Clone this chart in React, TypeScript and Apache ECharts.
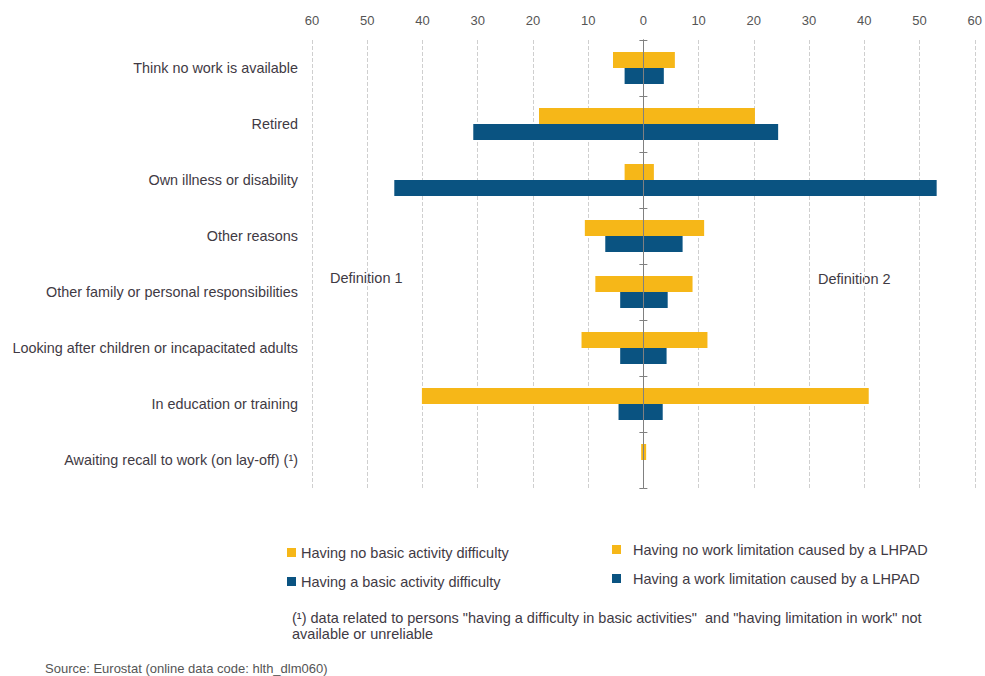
import React, { useEffect, useRef } from "react";
import * as echarts from "echarts";

const categories = [
  "Think no work is available",
  "Retired",
  "Own illness or disability",
  "Other reasons",
  "Other family or personal responsibilities",
  "Looking after children or incapacitated adults",
  "In education or training",
  "Awaiting recall to work (on lay-off) (\u00b9)",
];

// Definition 1 (plotted to the left)
const noBasicDifficulty = [5.5, 18.9, 3.4, 10.6, 8.7, 11.2, 40.1, 0.4];
const basicDifficulty = [3.4, 30.8, 45.1, 6.9, 4.2, 4.2, 4.5, null];
// Definition 2 (plotted to the right)
const noWorkLimitation = [5.7, 20.2, 1.9, 11.0, 8.9, 11.6, 40.8, 0.5];
const workLimitation = [3.7, 24.4, 53.1, 7.1, 4.4, 4.2, 3.5, null];

const seriesNames = [
  "Having no basic activity difficulty",
  "Having a basic activity difficulty",
  "Having no work limitation caused by a LHPAD",
  "Having a work limitation caused by a LHPAD",
];

const YELLOW = "#F6B718";
const BLUE = "#0A5381";
const FONT = "'Liberation Sans', Arial, sans-serif";
const TEXT = "#3f3a44";

export default function App() {
  const ref = useRef<HTMLDivElement>(null);
  useEffect(() => {
    if (!ref.current) return;
    const chart = echarts.init(ref.current, null, { renderer: "svg" });
    const neg = (arr: (number | null)[]) => arr.map((v) => (v == null ? null : -v));
    const bar = (name: string, data: (number | null)[], color: string, stack: string) => ({
      name,
      type: "bar",
      stack,
      data,
      barWidth: 16,
      barGap: "0%",
      itemStyle: { color },
      yAxisIndex: 0,
      z: 1,
    });
    const zeroAxis = (inside: boolean) => ({
      type: "category",
      data: categories,
      inverse: true,
      position: "left",
      z: 3,
      axisLine: { show: true, onZero: true, onZeroAxisIndex: 0, lineStyle: { color: "#808080", width: 1 } },
      axisTick: { show: true, inside, length: 4, lineStyle: { color: "#808080" } },
      axisLabel: { show: false },
      splitLine: { show: false },
    });
    chart.setOption({
      animation: false,
      backgroundColor: "#ffffff",
      textStyle: { fontFamily: FONT },
      grid: { left: 312, right: 8, top: 40, height: 448 },
      xAxis: {
        type: "value",
        position: "top",
        min: -60,
        max: 60,
        interval: 10,
        axisLine: { show: false, onZero: false },
        axisTick: { show: false },
        axisLabel: {
          formatter: (v: number) => String(Math.abs(v)),
          color: "#555",
          fontSize: 13,
          margin: 13,
          fontFamily: FONT,
        },
        splitLine: { show: true, lineStyle: { color: "#cfcfcf", type: "dashed", width: 1 } },
      },
      yAxis: [
        {
          type: "category",
          data: categories,
          inverse: true,
          axisLine: { show: false, onZero: false },
          axisTick: { show: false },
          axisLabel: { color: TEXT, fontSize: 14.4, margin: 14, fontFamily: FONT },
        },
        zeroAxis(false),
        zeroAxis(true),
      ],
      legend: [
        {
          data: [seriesNames[0], seriesNames[1]],
          orient: "vertical",
          left: 282,
          top: 540,
          itemWidth: 9,
          itemHeight: 9,
          itemGap: 14,
          icon: "rect",
          textStyle: { color: TEXT, fontSize: 14.5, fontFamily: FONT },
        },
        {
          data: [seriesNames[2], seriesNames[3]],
          orient: "vertical",
          left: 607,
          top: 537,
          itemWidth: 9,
          itemHeight: 9,
          itemGap: 14,
          icon: "rect",
          textStyle: { color: TEXT, fontSize: 14.5, fontFamily: FONT, padding: [0, 0, 0, 7] },
        },
      ],
      graphic: [
        { type: "text", left: 330, top: 270, style: { text: "Definition 1", fill: TEXT, font: `14.5px ${FONT}` } },
        { type: "text", left: 818, top: 271, style: { text: "Definition 2", fill: TEXT, font: `14.5px ${FONT}` } },
        {
          type: "text",
          left: 292,
          top: 610,
          style: {
            text:
              '(\u00b9) data related to persons "having a difficulty in basic activities"  and "having limitation in work" not\navailable or unreliable',
            fill: TEXT,
            font: `14.5px ${FONT}`,
            lineHeight: 16,
          },
        },
        {
          type: "text",
          left: 45,
          top: 662,
          style: { text: "Source: Eurostat (online data code: hlth_dlm060)", fill: "#555", font: `13px ${FONT}` },
        },
      ],
      series: [
        bar(seriesNames[0], neg(noBasicDifficulty), YELLOW, "yellow"),
        bar(seriesNames[1], neg(basicDifficulty), BLUE, "blue"),
        bar(seriesNames[2], noWorkLimitation, YELLOW, "yellow"),
        bar(seriesNames[3], workLimitation, BLUE, "blue"),
      ],
    });
    return () => chart.dispose();
  }, []);
  return (
    <div
      ref={ref}
      style={{ position: "absolute", left: 0, top: 0, width: 985, height: 676 }}
    />
  );
}
